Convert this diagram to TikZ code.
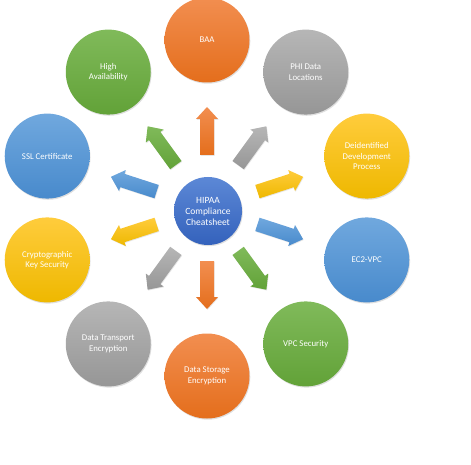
\documentclass[tikz,border=0pt]{standalone}
\usepackage{fontspec}
\setmainfont{Carlito}
\usetikzlibrary{calc,shadows}
\definecolor{orT}{RGB}{242,142,80}
\definecolor{orB}{RGB}{228,110,28}
\definecolor{grT}{RGB}{182,182,182}
\definecolor{grB}{RGB}{150,150,150}
\definecolor{ydT}{RGB}{255,204,60}
\definecolor{ydB}{RGB}{238,184,0}
\definecolor{blT}{RGB}{112,168,222}
\definecolor{blB}{RGB}{72,138,204}
\definecolor{gnT}{RGB}{128,186,90}
\definecolor{gnB}{RGB}{98,162,56}
\definecolor{hbT}{RGB}{92,136,214}
\definecolor{hbB}{RGB}{52,98,188}
\tikzset{
  topic/.style={circle, minimum size=85pt, inner sep=0pt, text=white, align=center,
    font=\fontsize{8.8}{10.5}\selectfont,
    drop shadow={opacity=0.25, shadow xshift=0.8pt, shadow yshift=-1.2pt},
    top color=#1T, bottom color=#1B},
  hubnode/.style={circle, minimum size=68pt, inner sep=0pt, text=white, align=center,
    font=\fontsize{9.5}{11}\selectfont,
    drop shadow={opacity=0.25, shadow xshift=0.8pt, shadow yshift=-1.2pt},
    top color=hbT, bottom color=hbB},
  blk/.style={top color=#1T, bottom color=#1B,
    drop shadow={opacity=0.2, shadow xshift=0.6pt, shadow yshift=-0.8pt}}
}
\newcommand\blkarrow[2]{%
  \path[blk=#2] ($(C)+(#1:53)+({#1+90}:7)$) -- ($(C)+(#1:89)+({#1+90}:7)$)
    -- ($(C)+(#1:89)+({#1+90}:11)$) -- ($(C)+(#1:101)$)
    -- ($(C)+(#1:89)+({#1-90}:11)$) -- ($(C)+(#1:89)+({#1-90}:7)$)
    -- ($(C)+(#1:53)+({#1-90}:7)$) -- cycle;}
\begin{document}
\begin{tikzpicture}[x=1pt,y=-1pt]
\useasboundingbox (0,0) rectangle (471,465);
\coordinate (C) at (207,208);
% arrows
\blkarrow{-90}{or}
\blkarrow{-54}{gr}
\blkarrow{-18}{yd}
\blkarrow{18}{bl}
\blkarrow{54}{gn}
\blkarrow{90}{or}
\blkarrow{126}{gr}
\blkarrow{162}{yd}
\blkarrow{198}{bl}
\blkarrow{234}{gn}
% hub
\node[hubnode] (hub) at (208,211) {HIPAA\\Compliance\\Cheatsheet};
% topics
\node[topic=or] (baa)    at ($(C)+(-90:168)$) {BAA};
\node[topic=gr] (phi)    at ($(C)+(-54:168)$) {PHI Data\\Locations};
\node[topic=yd] (deid)   at ($(C)+(-18:168)$) {Deidentified\\Development\\Process};
\node[topic=bl] (ec2)    at ($(C)+(18:168)$) {EC2-VPC};
\node[topic=gn] (vpcsec) at ($(C)+(54:168)$) {VPC Security};
\node[topic=or] (dstore) at ($(C)+(90:168)$) {Data Storage\\Encryption};
\node[topic=gr] (dtrans) at ($(C)+(126:168)$) {Data Transport\\Encryption};
\node[topic=yd] (crypto) at ($(C)+(162:168)$) {Cryptographic\\Key Security};
\node[topic=bl] (ssl)    at ($(C)+(198:168)$) {SSL Certificate};
\node[topic=gn] (ha)     at ($(C)+(234:168)$) {High\\Availability};
\end{tikzpicture}
\end{document}
